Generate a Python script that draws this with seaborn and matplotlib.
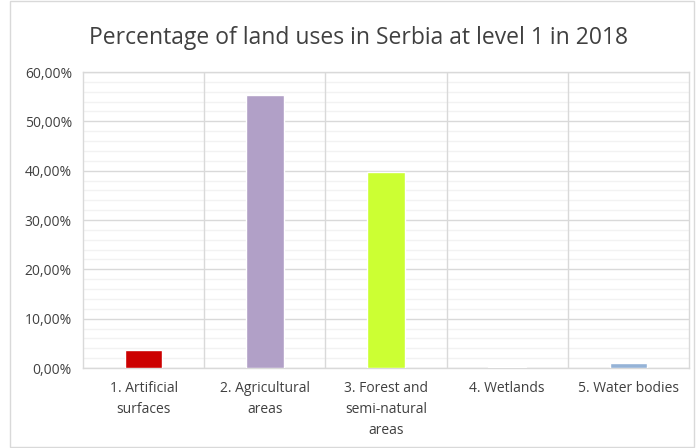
import numpy as np
import pandas as pd
import seaborn as sns
import matplotlib.pyplot as plt
from matplotlib.patches import Rectangle
from matplotlib.ticker import MultipleLocator, FuncFormatter

categories = ["1. Artificial\nsurfaces", "2. Agricultural\nareas", "3. Forest and\nsemi-natural\nareas",
              "4. Wetlands", "5. Water bodies"]
shares = [3.7, 55.3, 39.7, 0.2, 1.0]
bar_colors = ["#CC0000", "#B1A0C7", "#CCFF33", "#DCE6F2", "#95B3D7"]

df = pd.DataFrame({"category": categories, "share": shares})

sns.set_style("white")
plt.rcParams['font.family'] = ['Open Sans', 'DejaVu Sans']

fig = plt.figure(figsize=(6.96, 4.48), dpi=100)
ax = fig.add_axes([83 / 696, 1 - 368 / 448, (689 - 83) / 696, (368 - 72) / 448])

sns.barplot(data=df, x="category", y="share", hue="category", palette=bar_colors,
            saturation=1, legend=False, width=0.31, ax=ax, zorder=3)

ax.set_ylim(0, 60)
ax.set_xlim(-0.5, 4.5)
ax.yaxis.set_major_locator(MultipleLocator(10))
ax.yaxis.set_minor_locator(MultipleLocator(2))
ax.yaxis.set_major_formatter(FuncFormatter(lambda v, p: f"{v:.2f}%".replace(".", ",")))
ax.grid(which="major", axis="y", color="#D9D9D9", lw=1, zorder=0)
ax.grid(which="minor", axis="y", color="#F2F2F2", lw=1, zorder=0)
for b in np.arange(0.5, 4.5, 1):
    ax.axvline(b, color="#D9D9D9", lw=1, zorder=1)

for s in ax.spines.values():
    s.set_visible(True)
    s.set_color("#D9D9D9")
    s.set_linewidth(1)

ax.set_xlabel("")
ax.set_ylabel("")
ax.tick_params(axis="both", length=0, labelsize=10, colors="#404040", pad=8)
ax.tick_params(axis="x", pad=9)
for t in ax.get_xticklabels():
    t.set_linespacing(1.55)
    t.set_verticalalignment("top")

fig.text(0.515, 1 - 38 / 448, "Percentage of land uses in Serbia at level 1 in 2018",
         ha="center", va="center", fontsize=16.5, color="#404040")

fig.patches.append(Rectangle((10 / 696, 0.002), 684 / 696, 0.996, transform=fig.transFigure,
                             fill=False, edgecolor="#D9D9D9", lw=1))

fig.savefig("out.png", dpi=100)
